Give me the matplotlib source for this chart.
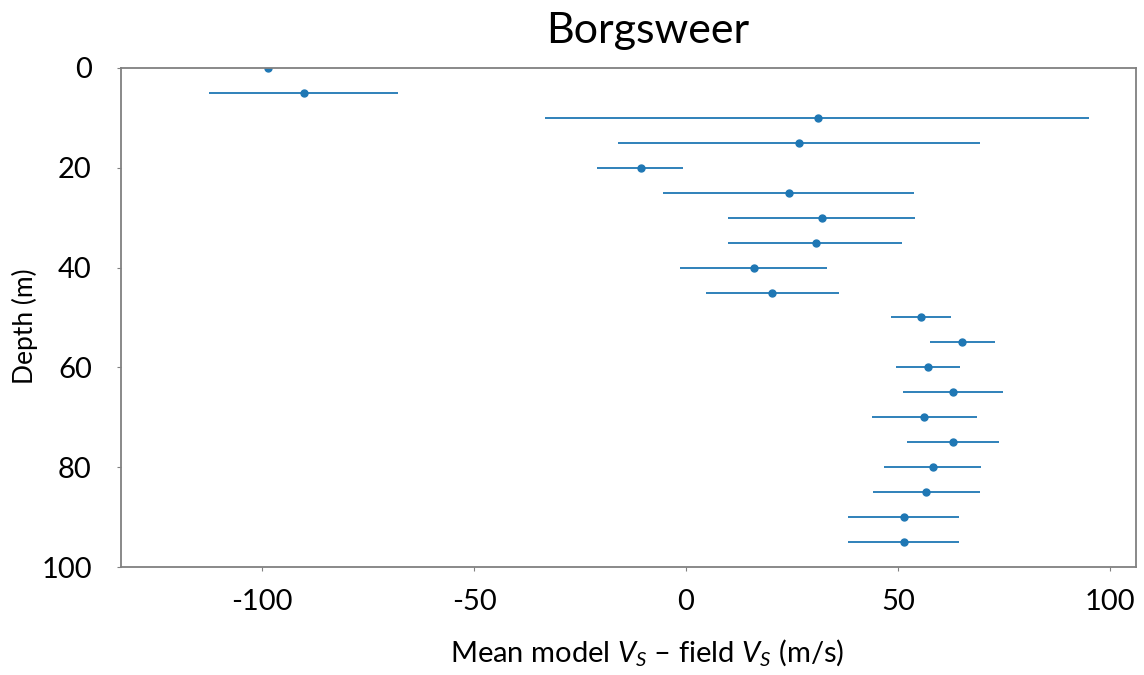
import matplotlib
matplotlib.use("Agg")
import matplotlib.pyplot as plt

plt.rcParams['font.family'] = ['Lato', 'DejaVu Sans']
plt.rcParams['mathtext.fontset'] = 'custom'
plt.rcParams['mathtext.rm'] = 'Lato'
plt.rcParams['mathtext.it'] = 'Lato:italic'

depth = [0, 5, 10, 15, 20, 25, 30, 35, 40, 45, 50, 55, 60, 65, 70, 75, 80, 85, 90, 95]
mean_diff = [-98.6, -90.1, 31.1, 26.7, -10.6, 24.3, 32.1, 30.7, 16.0, 20.3,
             55.4, 65.1, 57.1, 63.0, 56.1, 63.0, 58.3, 56.6, 51.4, 51.4]
lower = [-98.6, -112.5, -33.3, -16.0, -21.0, -5.4, 9.9, 9.9, -1.4, 4.7,
         48.3, 57.5, 49.5, 51.2, 43.9, 52.1, 46.7, 44.1, 38.2, 38.2]
upper = [-98.6, -67.9, 95.0, 69.3, -0.7, 53.8, 54.0, 50.9, 33.3, 36.1,
         62.5, 72.9, 64.6, 74.8, 68.6, 73.8, 69.6, 69.3, 64.4, 64.4]
xticks = [-100, -50, 0, 50, 100]
yticks = [0, 20, 40, 60, 80, 100]

xerr = [[m - l for m, l in zip(mean_diff, lower)],
        [u - m for m, u in zip(mean_diff, upper)]]

fig = plt.figure(figsize=(11.44, 6.75), dpi=100)
ax = fig.add_axes([0.1058, 0.16, 0.993 - 0.1058, 0.8993 - 0.16])
ax.errorbar(mean_diff, depth, xerr=xerr, fmt='o', color='#1f77b4',
            markersize=5, elinewidth=1.3, capsize=0)
ax.set_xlim(-133.3, 106.2)
ax.set_ylim(100, 0)
ax.set_xticks(xticks)
ax.set_xticklabels([str(t) for t in xticks])
ax.set_yticks(yticks)
for s in ax.spines.values():
    s.set_color('#808080')
    s.set_linewidth(1.3)
ax.tick_params(axis='both', labelsize=21, color='#808080', length=3, pad=13)
ax.tick_params(axis='y', pad=18)
ax.set_title('Borgsweer', fontsize=31, pad=18, x=0.519)
ax.set_xlabel(r'Mean model $V_S$ – field $V_S$ (m/s)', fontsize=21, labelpad=16, x=0.518)
ax.set_ylabel('Depth (m)', fontsize=19, labelpad=2, y=0.483)
fig.savefig('out.png', dpi=100)
